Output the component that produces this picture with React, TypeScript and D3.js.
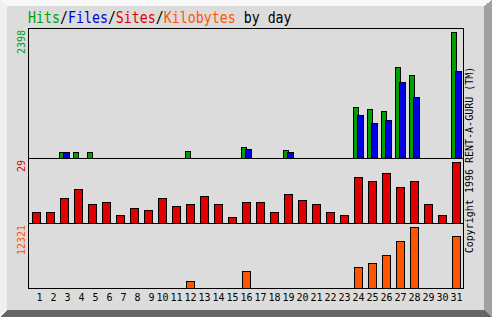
import React from "react";
import * as d3 from "d3";

const days = d3.range(1, 32);
const hits = [0, 0, 108, 108, 108, 0, 0, 0, 0, 0, 0, 133, 0, 0, 0, 209, 0, 0, 152, 0, 0, 0, 0, 965, 927, 894, 1726, 1580, 0, 0, 2398];
const files = [0, 0, 105, 0, 0, 0, 0, 0, 0, 0, 0, 0, 0, 0, 0, 171, 0, 0, 114, 0, 0, 0, 0, 818, 666, 723, 1446, 1161, 0, 0, 1656];
const sites = [5, 5, 12, 16, 9, 10, 4, 7, 6, 12, 8, 9, 13, 9, 3, 10, 10, 5, 14, 11, 9, 5, 4, 22, 20, 24, 17, 20, 9, 4, 29];
const kbytes = [0, 0, 0, 0, 0, 0, 0, 0, 0, 0, 0, 1414, 0, 0, 0, 3434, 0, 0, 0, 0, 0, 0, 0, 4242, 5050, 6665, 9493, 12321, 0, 0, 10503];
const maxLabels = ["2398", "29", "12321"];
const titleParts = [
  { t: "Hits", c: "#00a000" },
  { t: "/", c: "#000" },
  { t: "Files", c: "#0000e0" },
  { t: "/", c: "#000" },
  { t: "Sites", c: "#e00000" },
  { t: "/", c: "#000" },
  { t: "Kilobytes", c: "#ff5500" },
  { t: " by day", c: "#000" },
];
const copyright = "Copyright 1996 RENT-A-GURU (TM)";

const W = 492, H = 317;
const GREEN = "#00a000", BLUE = "#0000e0", RED = "#e00000", ORANGE = "#ff5500";

export default function App() {
  const x = d3.scaleLinear().domain([1, 31]).range([32.5, 452.5]);
  const hMax = d3.max(hits) as number;
  const sMax = d3.max(sites) as number;
  const kMax = d3.max(kbytes) as number;
  const yHits = d3.scaleLinear().domain([0, hMax]).range([0, 126]);
  const ySites = d3.scaleLinear().domain([0, sMax]).range([0, 61]);
  const yKb = d3.scaleLinear().domain([0, kMax]).range([0, 61]);
  const hb = 158.5, sb = 223.5, kb = 288.5;
  const mono = "'DejaVu Sans Mono', monospace";
  return (
    <svg width={W} height={H} style={{ position: "absolute", left: 0, top: 0 }} shapeRendering="crispEdges">
      <rect x={0} y={0} width={W} height={H} fill="#dcdcdc" />
      <polygon points="0,0 492,0 484,6 7,6" fill="#f8f8f8" />
      <polygon points="0,0 7,6 7,310 0,317" fill="#f0f0f0" />
      <polygon points="492,0 492,317 484,310 484,6" fill="#a0a0a0" />
      <polygon points="0,317 492,317 484,310 7,310" fill="#666666" />
      <g transform="translate(28,23) scale(0.83,1)">
        <text fontFamily={mono} fontSize={16} x={0} y={0}>
          {titleParts.map((p, i) => (
            <tspan key={i} fill={p.c} style={{ whiteSpace: "pre" }}>{p.t}</tspan>
          ))}
        </text>
      </g>
      {/* hits & files */}
      {days.map((d, i) => hits[i] > 0 ? (
        <rect key={"h" + d} x={x(d) - 1} y={hb - yHits(hits[i])} width={5} height={yHits(hits[i])} fill={GREEN} stroke="#000" />
      ) : null)}
      {days.map((d, i) => files[i] > 0 ? (
        <rect key={"f" + d} x={x(d) + 3} y={hb - yHits(files[i])} width={6} height={yHits(files[i])} fill={BLUE} stroke="#000" />
      ) : null)}
      {days.map((d, i) => sites[i] > 0 ? (
        <rect key={"s" + d} x={x(d)} y={sb - ySites(sites[i])} width={8} height={ySites(sites[i])} fill={RED} stroke="#000" />
      ) : null)}
      {days.map((d, i) => kbytes[i] > 0 ? (
        <rect key={"k" + d} x={x(d)} y={kb - yKb(kbytes[i])} width={8} height={yKb(kbytes[i])} fill={ORANGE} stroke="#000" />
      ) : null)}
      {/* frame */}
      <rect x={28.5} y={28.5} width={435} height={260} fill="none" stroke="#000" />
      <line x1={28} x2={464} y1={hb} y2={hb} stroke="#000" />
      <line x1={28} x2={464} y1={sb} y2={sb} stroke="#000" />
      {/* day labels */}
      {days.map((d) => (
        <text key={"l" + d} x={x(d) + 4 + (d < 10 ? 3 : 0)} y={301} fontFamily={mono} fontSize={10} textAnchor="middle" fill="#000">{d}</text>
      ))}
      {/* max labels */}
      {[{ y: 30, c: GREEN, t: maxLabels[0] }, { y: 160, c: RED, t: maxLabels[1] }, { y: 225, c: ORANGE, t: maxLabels[2] }].map((m, i) => (
        <text key={"m" + i} transform={`translate(25,${m.y}) rotate(-90)`} fontFamily={mono} fontSize={10} textAnchor="end" fill={m.c}>{m.t}</text>
      ))}
      <text transform="translate(473,160) rotate(-90)" fontFamily={mono} fontSize={10} textAnchor="middle" fill="#000">{copyright}</text>
    </svg>
  );
}
